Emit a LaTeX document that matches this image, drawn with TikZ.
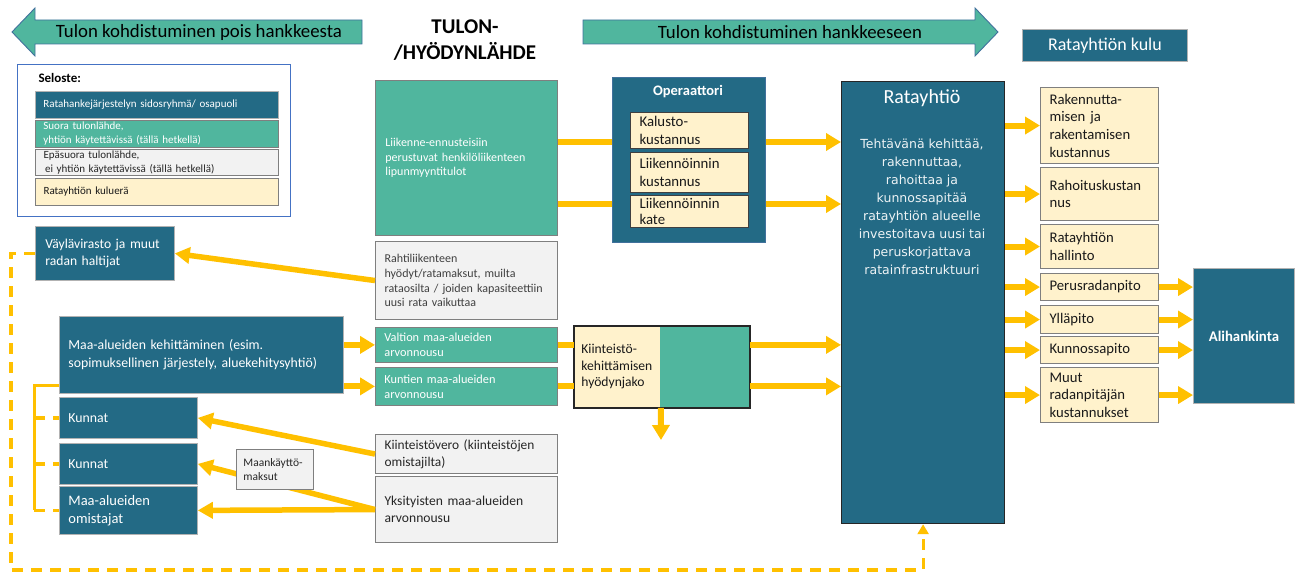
\documentclass[tikz,border=0pt]{standalone}
\usepackage{fontspec}
\setmainfont{Carlito}
\newfontfamily\dejavu{DejaVu Sans}
\usetikzlibrary{arrows.meta, positioning}

\definecolor{tummasin}{HTML}{236A85}
\definecolor{turkoosivari}{HTML}{50B69E}
\definecolor{harmaavari}{HTML}{F2F2F2}
\definecolor{kermavari}{HTML}{FFF2CC}
\definecolor{keltainen}{HTML}{FFC000}
\definecolor{reunus}{HTML}{7F7F7F}
\definecolor{selosteraja}{HTML}{4472C4}
\definecolor{nuolireuna}{HTML}{41719C}

\newcommand{\koko}[2]{\fontsize{#1}{#2}\selectfont}

\begin{document}
\begin{tikzpicture}[x=1pt, y=-1pt,
  laatikko/.style={anchor=north west, inner xsep=9pt, inner ysep=0pt, align=left, line width=0.8pt},
  tumma/.style={laatikko, fill=tummasin, draw=gray!60, text=white},
  turkoosi/.style={laatikko, fill=turkoosivari, draw=reunus, text=white},
  harmaa/.style={laatikko, fill=harmaavari, draw=reunus, line width=1.1pt, text=black!85},
  kerma/.style={laatikko, fill=kermavari, draw=reunus, line width=1.1pt, text=black!90},
  nuoli/.style={draw=keltainen, line width=6pt, -{Triangle[length=15pt,width=17pt]}},
  vino/.style={draw=keltainen, line width=5.5pt, -{Triangle[length=15pt,width=16pt]}},
  viiva/.style={draw=keltainen, line width=6pt},
  katko/.style={draw=keltainen, line width=3.2pt, dash pattern=on 11pt off 8pt},
]
\useasboundingbox (0,0) rectangle (1300,572);

% otsikkonuolet
\draw[fill=turkoosivari, draw=nuolireuna, line width=0.9pt]
  (12,32) -- (35,8) -- (35,20) -- (362,20) -- (362,44) -- (35,44) -- (35,56) -- cycle;
\node[font=\koko{18.8}{22}] (pois) at (199,32) {Tulon kohdistuminen pois hankkeesta};
\draw[fill=turkoosivari, draw=nuolireuna, line width=0.9pt]
  (583,20) -- (975,20) -- (975,8) -- (998,32) -- (975,56) -- (975,44) -- (583,44) -- cycle;
\node[font=\koko{18.8}{22}] (hankkeeseen) at (790,32) {Tulon kohdistuminen hankkeeseen};
\node[font=\bfseries\koko{21}{26}, align=center] (lahde) at (465,40) {TULON-\\/HYÖDYNLÄHDE};
\node[tumma, minimum width=165pt, minimum height=32pt, align=center, font=\koko{18}{20}] (kulu) at (1022,29) {Ratayhtiön kulu};

% seloste
\node[draw=selosteraja, line width=1pt, anchor=north west, minimum width=273pt, minimum height=152pt, inner sep=0pt] (seloste) at (17,64) {};
\node[anchor=west, font=\bfseries\koko{13}{15}] (selotsikko) at (35,78) {Seloste:};
\node[tumma, text width=227pt, inner xsep=8pt, minimum height=27pt, font=\koko{11}{14}] (sel1) at (35,91) {Ratahankejärjestelyn sidosryhmä/ osapuoli};
\node[turkoosi, text width=227pt, inner xsep=8pt, minimum height=27pt, font=\koko{11}{14}] (sel2) at (35,120) {Suora tulonlähde,\\yhtiön käytettävissä (tällä hetkellä)};
\node[harmaa, text width=227pt, inner xsep=8pt, minimum height=26pt, font=\koko{11}{14}] (sel3) at (35,149) {Epäsuora tulonlähde,\\\hspace{1.5pt}ei yhtiön käytettävissä (tällä hetkellä)};
\node[kerma, text width=227pt, inner xsep=8pt, minimum height=27pt, font=\koko{11}{14}] (sel4) at (35,178) {Ratayhtiön kuluerä};

% tulonlähteet
\node[turkoosi, text width=162pt, inner xsep=10pt, minimum height=155pt, font=\koko{12}{14.5}] (liik) at (375,80) {Liikenne-ennusteisiin\\perustuvat henkilöliikenteen\\lipunmyyntitulot};
\node[harmaa, text width=164pt, minimum height=78pt, font=\koko{12}{14.7}, text=black!75] (rahti) at (375,241) {Rahtiliikenteen\\hyödyt/ratamaksut, muilta\\rataosilta / joiden kapasiteettiin\\uusi rata vaikuttaa};
\node[turkoosi, text width=164pt, minimum height=35pt, font=\koko{12.3}{15}] (valtio) at (375,327) {Valtion maa-alueiden\\arvonnousu};
\node[turkoosi, text width=164pt, minimum height=38pt, font=\koko{12.3}{15}] (kuntien) at (375,367) {Kuntien maa-alueiden\\arvonnousu};
\node[harmaa, text width=164pt, minimum height=39pt, font=\koko{13.4}{16.7}] (vero) at (375,434) {Kiinteistövero (kiinteistöjen\\omistajilta)};
\node[harmaa, text width=164pt, minimum height=66pt, font=\koko{13.6}{17}] (yks) at (375,476) {Yksityisten maa-alueiden\\arvonnousu};

% operaattori
\node[tumma, draw=nuolireuna, minimum width=153pt, minimum height=165pt] (oper) at (612,77) {};
\node[text=white, font=\bfseries\koko{14.5}{16}] (operotsikko) at (688,92) {Operaattori};
\node[kerma, draw=black!75, text width=100pt, minimum height=36pt, font=\koko{14.8}{18}] (kalusto) at (630,112) {Kalusto-\\kustannus};
\node[kerma, draw=black!75, text width=100pt, minimum height=40pt, font=\koko{14.8}{18}] (liikkust) at (630,152) {Liikennöinnin\\kustannus};
\node[kerma, draw=black!75, text width=100pt, minimum height=32pt, font=\koko{14.8}{16.5}] (kate) at (630,195) {Liikennöinnin\\kate};

% kiinteistökehittäminen
\node[laatikko, fill=turkoosivari, minimum width=175pt, minimum height=81pt] (kiint) at (574,326) {};
\node[laatikko, fill=kermavari, text width=72pt, inner xsep=7pt, minimum height=81pt, text=black!90, font=\koko{13.6}{16.5}] (jako) at (574,326) {Kiinteistö-\\kehittämisen\\hyödynjako};
\draw[draw=black!85, line width=1.5pt] (kiint.north west) rectangle (kiint.south east);

% ratayhtiö
\node[tumma, draw=black!85, line width=1.2pt, minimum width=163pt, minimum height=442pt] (raty) at (841,81) {};
\node[text=white, font=\koko{20}{22}] (ratyotsikko) at (922,98) {Ratayhtiö};
\node[anchor=north, align=center, text=white!92!tummasin, font=\dejavu\koko{12.5}{18}] (tehtava) at (922,135)
  {Tehtävänä kehittää,\\rakennuttaa,\\rahoittaa ja\\kunnossapitää\\ratayhtiön alueelle\\investoitava uusi tai\\peruskorjattava\\ratainfrastruktuuri};

% kuluerät
\node[kerma, text width=100pt, minimum height=76pt, font=\koko{14.7}{17.7}] (rak) at (1040,87) {Rakennutta-\\misen ja\\rakentamisen\\kustannus};
\node[kerma, text width=100pt, minimum height=53pt, font=\koko{14.7}{17.7}] (rah) at (1040,167) {Rahoituskustan\\nus};
\node[kerma, text width=100pt, minimum height=44pt, font=\koko{14.7}{17.7}] (hal) at (1040,224) {Ratayhtiön\\hallinto};
\node[kerma, text width=100pt, minimum height=27pt, font=\koko{14.7}{17.7}] (per) at (1040,273) {Perusradanpito};
\node[kerma, text width=100pt, minimum height=28pt, font=\koko{14.7}{17.7}] (yll) at (1040,305) {Ylläpito};
\node[kerma, text width=100pt, minimum height=27pt, font=\koko{14.7}{17.7}] (kun) at (1040,336) {Kunnossapito};
\node[kerma, text width=100pt, minimum height=55pt, font=\koko{14.7}{17.7}] (muut) at (1040,367) {Muut\\radanpitäjän\\kustannukset};
\node[tumma, minimum width=101pt, minimum height=135pt, align=center, font=\bfseries\koko{14.8}{16}] (ali) at (1193,268) {Alihankinta};

% tulon saajat
\node[tumma, text width=119pt, inner xsep=10pt, minimum height=54pt, font=\koko{13.6}{16.7}] (vayla) at (35,226) {Väylävirasto ja muut\\radan haltijat};
\node[tumma, text width=266pt, minimum height=77pt, font=\koko{13.8}{18}] (maa) at (59,316) {Maa-alueiden kehittäminen (esim.\\sopimuksellinen järjestely, aluekehitysyhtiö)};
\node[tumma, text width=120pt, minimum height=41pt, font=\koko{13.8}{17}] (kunnat1) at (59,397) {Kunnat};
\node[tumma, text width=120pt, minimum height=41pt, font=\koko{13.8}{17}] (kunnat2) at (59,443) {Kunnat};
\node[tumma, text width=120pt, minimum height=48pt, font=\koko{14.5}{18}] (omist) at (59,486) {Maa-alueiden\\omistajat};

% rahavirrat
\coordinate (ylempi) at (585,142);
\coordinate (alempi) at (585,204);
\draw[viiva] (liik.east |- ylempi) -- (oper.west |- ylempi);
\draw[viiva] (liik.east |- alempi) -- (oper.west |- alempi);
\draw[nuoli] (oper.east |- ylempi) -- (raty.west |- ylempi);
\draw[nuoli] (oper.east |- alempi) -- (raty.west |- alempi);
\foreach \k in {rak, rah, hal, per, yll, kun, muut}
  \draw[nuoli] (raty.east |- \k.west) -- (\k.west);
\foreach \k in {per, yll, kun, muut}
  \draw[nuoli] (\k.east) -- (ali.west |- \k.east);
\draw[vino] (rahti.west) -- (vayla.east);
\draw[nuoli] (maa.east |- valtio.west) -- (valtio.west);
\draw[nuoli] (maa.east |- kuntien.west) -- (kuntien.west);
\draw[viiva] (valtio.east) -- (kiint.west |- valtio.east);
\draw[viiva] (kuntien.east) -- (kiint.west |- kuntien.east);
\draw[nuoli] (kiint.east |- valtio.east) -- (raty.west |- valtio.east);
\draw[nuoli] (kiint.east |- kuntien.east) -- (raty.west |- kuntien.east);
\coordinate (jakoalas) at (661,440);
\draw[nuoli] (jako.south east) -- (jakoalas);
\draw[vino] (vero.west) -- (kunnat1.east);
\draw[vino] (yks.west) -- (kunnat2.east);
\draw[vino] (yks.west) -- (omist.east);
\node[harmaa, line width=0.9pt, text width=63pt, inner xsep=7pt, minimum height=40pt, font=\koko{11.5}{14}] (maksut) at (236,449) {Maankäyttö-\\maksut};

% katkoviivat
\coordinate (haara) at (34,385);
\draw[draw=keltainen, line width=3pt] (maa.west |- haara) -- (haara) -- (haara |- omist.west);
\draw[katko] (haara |- kunnat1.west) -- (kunnat1.west);
\draw[katko] (haara |- kunnat2.west) -- (kunnat2.west);
\draw[katko] (haara |- omist.west) -- (omist.west);
\coordinate (kierto) at (11,570);
\draw[katko, -{Triangle[length=10pt,width=11pt]}] (vayla.west) -| (kierto) -| (raty.south);
\end{tikzpicture}
\end{document}
